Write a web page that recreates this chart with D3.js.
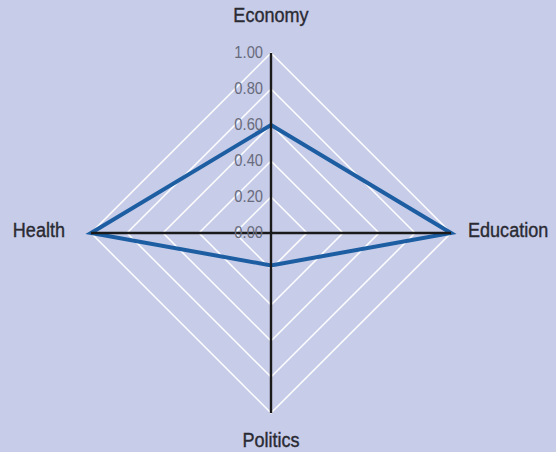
<!DOCTYPE html>
<html lang="en">
<head>
    <meta charset="UTF-8">
    <title>Radar</title>
    <script src="https://d3js.org/d3.v7.min.js"></script>
    <style>
        body { margin: 0; background: #c7cce8; }
        svg { display: block; }
    </style>
</head>
<body>
<svg id="main" width="556" height="452"></svg>
<script>
    // axes clockwise from the top
    const categories = ['Economy', 'Education', 'Politics', 'Health'];
    const values = [0.60, 1.00, 0.18, 1.00];
    const tickValues = [0, 0.2, 0.4, 0.6, 0.8, 1.0];
    const tickLabels = ['0.00', '0.20', '0.40', '0.60', '0.80', '1.00'];

    const cx = 271, cy = 233, R = 180;
    const font = '"Liberation Sans", Arial, sans-serif';

    let svg = d3.select('svg#main');
    let rScale = d3.scaleLinear().domain([0, 1]).range([0, R]);
    let angle = d3.scalePoint().domain(categories).range([0, 2 * Math.PI * 3 / 4]);

    function pt(cat, v) {
        let a = angle(cat);
        return [cx + rScale(v) * Math.sin(a), cy - rScale(v) * Math.cos(a)];
    }

    let line = d3.line().curve(d3.curveLinearClosed);

    // white grid diamonds
    svg.selectAll('path.grid')
        .data(tickValues.filter(d => d > 0))
        .enter()
        .append('path')
        .attr('class', 'grid')
        .attr('d', v => line(categories.map(c => pt(c, v))))
        .attr('fill', 'none')
        .attr('stroke', '#ffffff')
        .attr('stroke-width', 1.5);

    // data polygon
    svg.append('path')
        .attr('d', line(categories.map((c, i) => pt(c, values[i]))))
        .attr('fill', 'none')
        .attr('stroke', '#1d5ea3')
        .attr('stroke-width', 4)
        .attr('stroke-linejoin', 'miter');

    // black axes
    svg.selectAll('line.axis')
        .data(categories)
        .enter()
        .append('line')
        .attr('class', 'axis')
        .attr('x1', cx).attr('y1', cy)
        .attr('x2', c => pt(c, 1)[0])
        .attr('y2', c => pt(c, 1)[1])
        .attr('stroke', '#1a1a1a')
        .attr('stroke-width', 2.4);

    // tick labels along the top axis (condensed face)
    svg.selectAll('text.tick')
        .data(tickValues)
        .enter()
        .append('text')
        .attr('class', 'tick')
        .attr('transform', v => `translate(${cx - 8},${cy - rScale(v) + 5}) scale(0.92,1)`)
        .attr('text-anchor', 'end')
        .attr('font-family', font)
        .attr('font-size', 16)
        .attr('fill', '#676b7c')
        .text((v, i) => tickLabels[i]);

    // category labels
    let labelPos = {
        Economy: {dx: 0, dy: -31, anchor: 'middle'},
        Education: {dx: 17, dy: 4, anchor: 'start'},
        Politics: {dx: 0, dy: 34, anchor: 'middle'},
        Health: {dx: -26, dy: 4, anchor: 'end'}
    };
    svg.selectAll('text.cat')
        .data(categories)
        .enter()
        .append('text')
        .attr('class', 'cat')
        .attr('transform', c => `translate(${pt(c, 1)[0] + labelPos[c].dx},${pt(c, 1)[1] + labelPos[c].dy}) scale(0.86,1)`)
        .attr('text-anchor', c => labelPos[c].anchor)
        .attr('font-family', font)
        .attr('font-size', 21)
        .attr('fill', '#2a2a33')
        .attr('stroke', '#2a2a33')
        .attr('stroke-width', 0.4)
        .text(c => c);
</script>
</body>
</html>
